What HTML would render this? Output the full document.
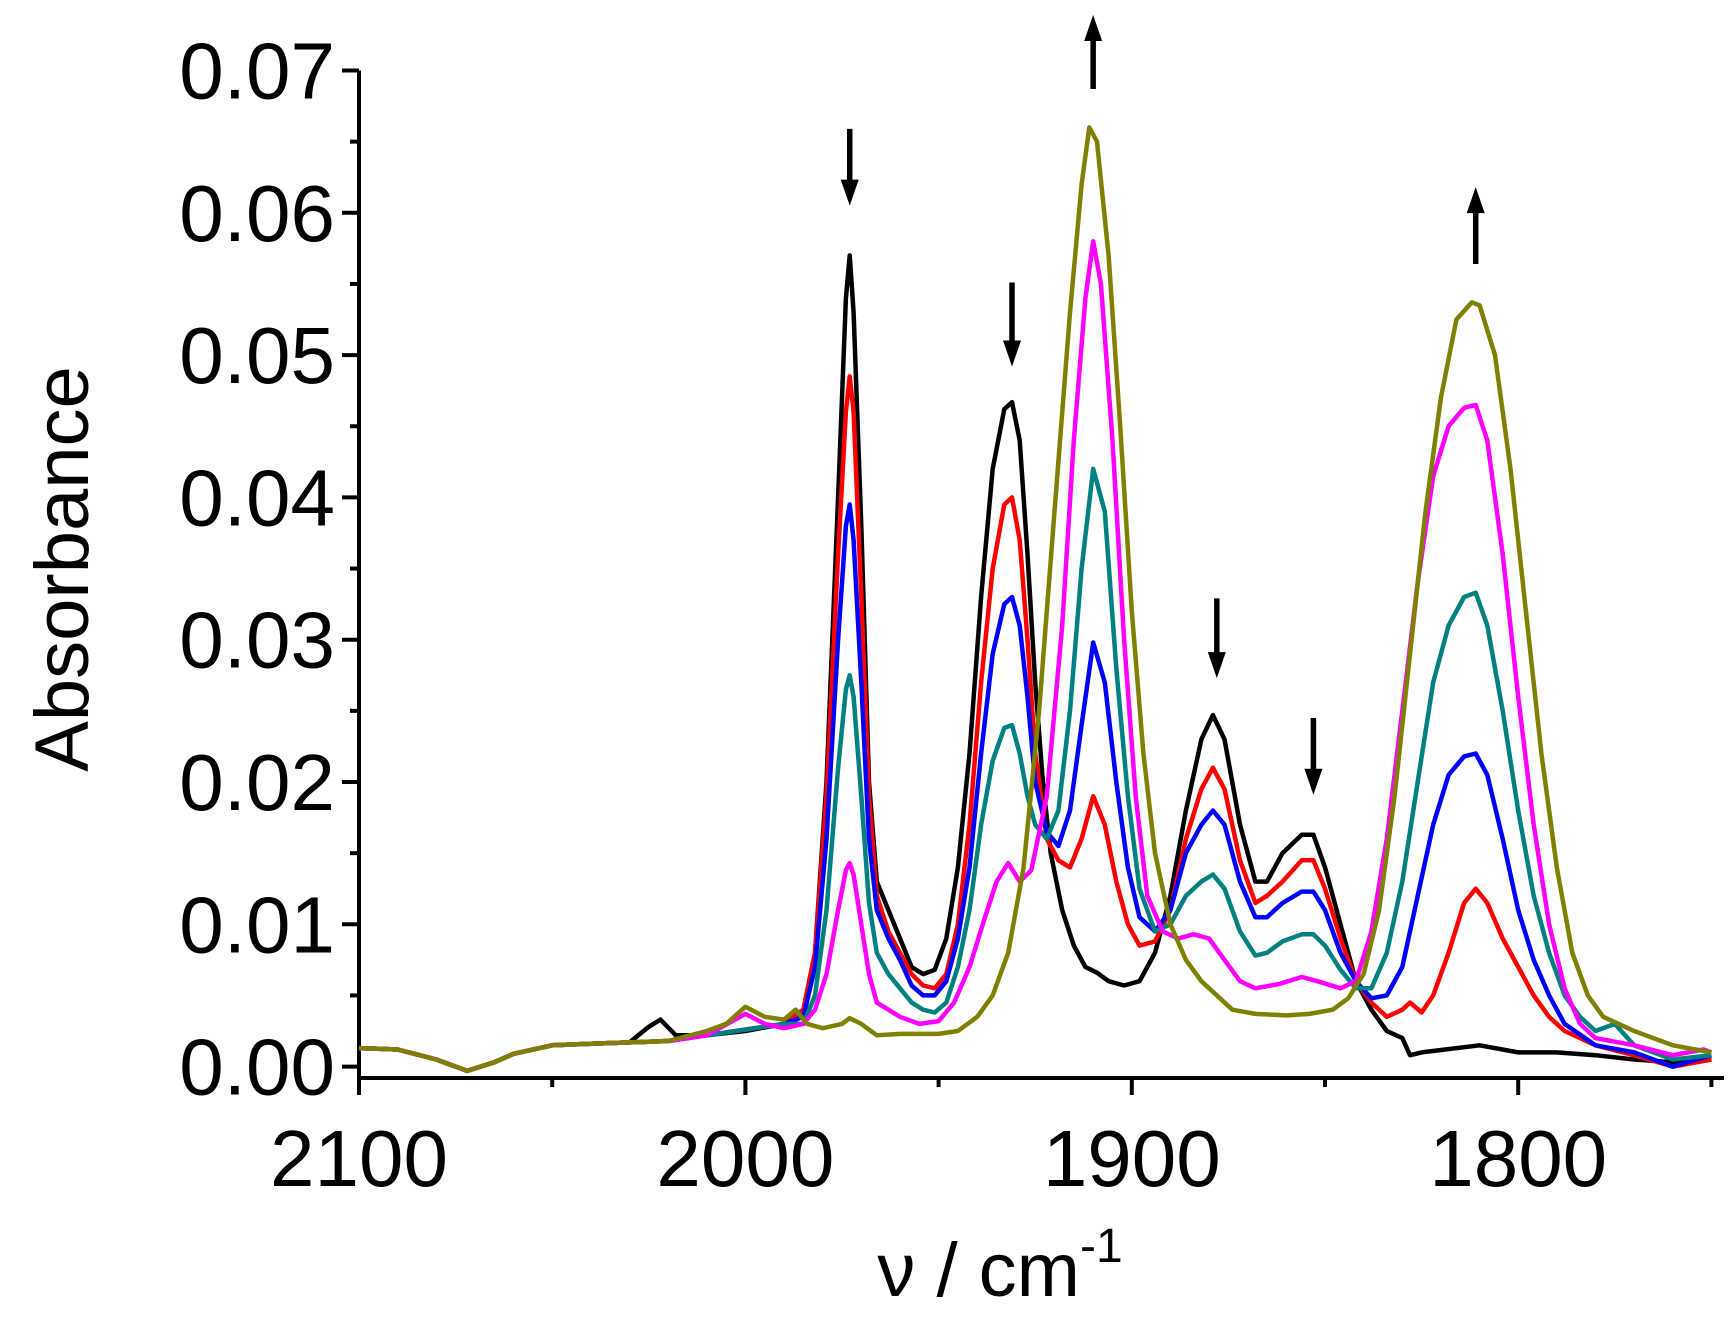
<!DOCTYPE html>
<html><head><meta charset="utf-8"><style>
html,body{margin:0;padding:0;background:#fff;}
svg{display:block;font-family:"Liberation Sans",Arial,sans-serif;}
</style></head><body>
<svg id="chart" width="1736" height="1323" viewBox="0 0 1736 1323" xmlns="http://www.w3.org/2000/svg">
<g id="axes"></g>
<g id="series"></g>
<g id="arrows"></g>
<text transform="translate(88,569) rotate(-90)" text-anchor="middle" font-size="76">Absorbance</text>
<text x="1000" y="1296" text-anchor="middle" font-size="76">ν / cm<tspan font-size="48" dy="-34">-1</tspan></text>
</svg>
<script>
const xTicks = [2100, 2000, 1900, 1800];
const yTicks = [0.00, 0.01, 0.02, 0.03, 0.04, 0.05, 0.06, 0.07];
const base = [[2100,0.0013],[2090,0.0012],[2080,0.0005],[2072,-0.0003],[2065,0.0003],[2060,0.0009],[2050,0.0015],[2040,0.0016],[2030,0.0017],[2020,0.0018],[2010,0.0022],[2000,0.0026],[1990,0.003]];
const blackData = [[2100,0.0013],[2090,0.0012],[2080,0.0005],[2072,-0.0003],[2065,0.0003],[2060,0.0009],[2050,0.0015],[2040,0.0016],[2030,0.0017],[2025,0.0028],[2022,0.0033],[2018,0.0022],[2010,0.0022],[2000,0.0025],[1990,0.003],[1985,0.004],[1982,0.008],[1979,0.02],[1976,0.04],[1974,0.054],[1973,0.057],[1972,0.053],[1970,0.038],[1968,0.02],[1966,0.013],[1963,0.011],[1960,0.009],[1957,0.007],[1954,0.0065],[1951,0.0068],[1948,0.009],[1945,0.014],[1942,0.022],[1939,0.033],[1936,0.042],[1933,0.0462],[1931,0.0467],[1929,0.044],[1927,0.036],[1925,0.027],[1923,0.02],[1921,0.015],[1918,0.011],[1915,0.0085],[1912,0.007],[1909,0.0066],[1906,0.006],[1902,0.0057],[1898,0.006],[1894,0.008],[1890,0.012],[1886,0.018],[1882,0.023],[1879,0.0247],[1876,0.023],[1872,0.017],[1868,0.013],[1865,0.013],[1861,0.015],[1856,0.0163],[1853,0.0163],[1850,0.014],[1846,0.01],[1842,0.006],[1838,0.004],[1834,0.0025],[1830,0.002],[1828,0.0008],[1825,0.001],[1810,0.0015],[1800,0.001],[1790,0.001],[1780,0.0008],[1770,0.0005],[1760,0.0003],[1750,0.0005]];
const redData = base.concat([[1985,0.004],[1982,0.008],[1979,0.019],[1976,0.036],[1974,0.046],[1973,0.0485],[1972,0.046],[1970,0.033],[1968,0.019],[1966,0.012],[1963,0.0095],[1960,0.008],[1957,0.0065],[1954,0.0057],[1951,0.0055],[1948,0.0065],[1945,0.01],[1942,0.017],[1939,0.027],[1936,0.035],[1933,0.0395],[1931,0.040],[1929,0.037],[1927,0.03],[1925,0.022],[1922,0.016],[1919,0.0145],[1916,0.014],[1913,0.016],[1910,0.019],[1907,0.017],[1904,0.013],[1901,0.01],[1898,0.0085],[1894,0.0088],[1890,0.011],[1886,0.016],[1882,0.0195],[1879,0.021],[1876,0.0195],[1872,0.0145],[1868,0.0115],[1865,0.012],[1861,0.013],[1856,0.0145],[1853,0.0145],[1850,0.0125],[1846,0.009],[1842,0.006],[1838,0.0045],[1834,0.0035],[1830,0.004],[1828,0.0045],[1825,0.0038],[1822,0.005],[1818,0.008],[1814,0.0115],[1811,0.0125],[1808,0.0115],[1804,0.009],[1800,0.007],[1796,0.005],[1792,0.0035],[1788,0.0025],[1784,0.002],[1780,0.0015],[1770,0.0008],[1760,0.0],[1750,0.0005]]);
const blueData = base.concat([[1985,0.0035],[1982,0.007],[1979,0.016],[1976,0.03],[1974,0.038],[1973,0.0395],[1972,0.037],[1970,0.027],[1968,0.016],[1966,0.011],[1963,0.009],[1960,0.0075],[1957,0.0057],[1954,0.005],[1951,0.005],[1948,0.006],[1945,0.009],[1942,0.014],[1939,0.022],[1936,0.029],[1933,0.0325],[1931,0.033],[1929,0.031],[1927,0.026],[1925,0.02],[1922,0.0165],[1919,0.0155],[1916,0.018],[1913,0.024],[1910,0.0298],[1907,0.027],[1904,0.02],[1901,0.014],[1898,0.0105],[1894,0.0095],[1890,0.011],[1886,0.015],[1882,0.017],[1879,0.018],[1876,0.017],[1872,0.013],[1868,0.0105],[1865,0.0105],[1861,0.0115],[1856,0.0123],[1853,0.0123],[1850,0.011],[1846,0.008],[1842,0.006],[1838,0.0048],[1834,0.005],[1830,0.007],[1826,0.012],[1822,0.017],[1818,0.0205],[1814,0.0218],[1811,0.022],[1808,0.0205],[1804,0.016],[1800,0.011],[1796,0.0075],[1792,0.005],[1788,0.003],[1780,0.0015],[1770,0.001],[1760,0.0],[1750,0.0008]]);
const tealData = base.concat([[1985,0.003],[1982,0.005],[1979,0.011],[1976,0.021],[1974,0.0265],[1973,0.0275],[1972,0.026],[1970,0.019],[1968,0.0115],[1966,0.008],[1963,0.0065],[1960,0.0055],[1957,0.0045],[1954,0.004],[1951,0.0038],[1948,0.0045],[1945,0.007],[1942,0.011],[1939,0.017],[1936,0.0215],[1933,0.0238],[1931,0.024],[1929,0.022],[1927,0.019],[1925,0.017],[1922,0.016],[1919,0.018],[1916,0.025],[1913,0.035],[1910,0.042],[1907,0.039],[1904,0.028],[1901,0.019],[1898,0.0125],[1894,0.0095],[1890,0.01],[1886,0.012],[1882,0.013],[1879,0.0135],[1876,0.0125],[1872,0.0095],[1868,0.0078],[1865,0.008],[1861,0.0088],[1856,0.0093],[1853,0.0093],[1850,0.0085],[1846,0.0068],[1842,0.0055],[1838,0.0055],[1834,0.008],[1830,0.013],[1826,0.02],[1822,0.027],[1818,0.031],[1814,0.033],[1811,0.0333],[1808,0.031],[1804,0.025],[1800,0.018],[1796,0.012],[1792,0.008],[1788,0.005],[1784,0.0035],[1780,0.0025],[1775,0.003],[1770,0.0015],[1760,0.0005],[1750,0.0008]]);
const magentaData = base.slice(0,11).concat([[2000,0.0037],[1995,0.003],[1990,0.0027],[1985,0.003],[1982,0.004],[1979,0.0065],[1976,0.011],[1974,0.0138],[1973,0.0143],[1972,0.0135],[1970,0.01],[1968,0.0065],[1966,0.0045],[1963,0.004],[1960,0.0035],[1955,0.003],[1950,0.0032],[1946,0.0045],[1942,0.007],[1938,0.0105],[1935,0.013],[1932,0.0143],[1929,0.013],[1926,0.0138],[1922,0.019],[1918,0.031],[1915,0.044],[1912,0.054],[1910,0.058],[1908,0.055],[1905,0.044],[1902,0.03],[1899,0.019],[1896,0.012],[1892,0.0095],[1888,0.009],[1884,0.0093],[1880,0.009],[1876,0.0075],[1872,0.006],[1868,0.0055],[1862,0.0058],[1856,0.0063],[1852,0.006],[1846,0.0055],[1842,0.006],[1838,0.0095],[1834,0.016],[1830,0.025],[1826,0.034],[1822,0.0415],[1818,0.045],[1814,0.0463],[1811,0.0465],[1808,0.044],[1804,0.036],[1800,0.026],[1796,0.017],[1792,0.01],[1788,0.0055],[1784,0.003],[1780,0.002],[1770,0.0015],[1760,0.0008],[1752,0.0012],[1750,0.001]]);
const oliveData = base.slice(0,10).concat([[2010,0.0025],[2005,0.003],[2000,0.0042],[1995,0.0035],[1990,0.0033],[1987,0.004],[1984,0.003],[1980,0.0027],[1975,0.003],[1973,0.0034],[1970,0.003],[1966,0.0022],[1960,0.0023],[1950,0.0023],[1945,0.0025],[1940,0.0035],[1936,0.005],[1932,0.008],[1928,0.014],[1924,0.025],[1920,0.039],[1916,0.053],[1913,0.062],[1911,0.066],[1909,0.065],[1906,0.057],[1903,0.045],[1900,0.032],[1897,0.022],[1894,0.015],[1890,0.01],[1886,0.0075],[1882,0.006],[1878,0.005],[1874,0.004],[1868,0.0037],[1860,0.0036],[1854,0.0037],[1848,0.004],[1844,0.0048],[1840,0.0065],[1836,0.011],[1832,0.019],[1828,0.029],[1824,0.039],[1820,0.047],[1816,0.0525],[1812,0.0537],[1810,0.0535],[1806,0.05],[1802,0.042],[1798,0.032],[1794,0.022],[1790,0.014],[1786,0.008],[1782,0.005],[1778,0.0035],[1774,0.003],[1770,0.0025],[1760,0.0015],[1750,0.001]]);
const arrowPeaks = [1973, 1931, 1910, 1878, 1853, 1811];
const arrowDirs = ["down","down","up","down","down","up"];
const arrowFrom = [0.0659, 0.0551, 0.0687, 0.0329, 0.0245, 0.0564];
const arrowTo = [0.0605, 0.0492, 0.0739, 0.0273, 0.0191, 0.0618];

const NS = "http://www.w3.org/2000/svg";
const X0 = 359, PX100 = 386.4, Y0 = 1066.6, PY01 = 142.3;
const xs = v => X0 + (2100 - v) / 100 * PX100;
const ys = v => Y0 - v / 0.01 * PY01;
function mk(tag, attrs, parent){ const e = document.createElementNS(NS, tag); for (const k in attrs) e.setAttribute(k, attrs[k]); parent.appendChild(e); return e; }
const axes = document.getElementById('axes');
const yAxis = mk('line',{x1:X0,y1:ys(0.07),x2:X0,y2:1080,stroke:'#000','stroke-width':4},axes);


const xAxis = mk('line',{x1:X0-2,y1:1078,x2:1724,y2:1078,stroke:'#000','stroke-width':4},axes);


yTicks.forEach(t => {
  const y = ys(t);
  const tk = mk('line',{x1:X0-17,y1:y,x2:X0,y2:y,stroke:'#000','stroke-width':4},axes);
  
  
  const lb = mk('text',{x:X0-24,y:y+28,'text-anchor':'end','font-size':80},axes);
  lb.textContent = t.toFixed(2);
  
  
  if (t < 0.07) {
    const m = mk('line',{x1:X0-9,y1:ys(t+0.005),x2:X0,y2:ys(t+0.005),stroke:'#000','stroke-width':4},axes);
    
    
  }
});
[2100,2050,2000,1950,1900,1850,1800,1750].forEach(t => {
  const major = xTicks.includes(t);
  const tk = mk('line',{x1:xs(t),y1:1078,x2:xs(t),y2:1078+(major?17:9),stroke:'#000','stroke-width':4},axes);
  
  
});
xTicks.forEach(t => {
  const lb = mk('text',{x:xs(t),y:1186,'text-anchor':'middle','font-size':80},axes);
  lb.textContent = t;
  
  
});
const seriesList = [[blackData,'#000000','black'],[redData,'#ff0000','red'],[blueData,'#0000ff','blue'],[tealData,'#008080','teal'],[magentaData,'#ff00ff','magenta'],[oliveData,'#808000','olive']];
const sg = document.getElementById('series');
seriesList.forEach(s => {
  const d = s[0].map((p,i) => (i?'L':'M') + xs(p[0]).toFixed(1) + ',' + ys(p[1]).toFixed(1)).join(' ');
  const p = mk('path',{d:d,fill:'none',stroke:s[1],'stroke-width':4.5,'stroke-linejoin':'round'},sg);
  
  
});
const ag = document.getElementById('arrows');
arrowPeaks.forEach((pk,i) => {
  const x = xs(pk), y1 = ys(arrowFrom[i]), y2 = ys(arrowTo[i]);
  const dir = arrowDirs[i] === 'down' ? 1 : -1;
  const l = mk('line',{x1:x,y1:y1,x2:x,y2:y2-dir*20,stroke:'#000','stroke-width':5.5},ag);
  
  
  const h = mk('polygon',{points:`${x-9},${y2-dir*26} ${x+9},${y2-dir*26} ${x},${y2}`,fill:'#000'},ag);
  
  
});
</script>
</body></html>
